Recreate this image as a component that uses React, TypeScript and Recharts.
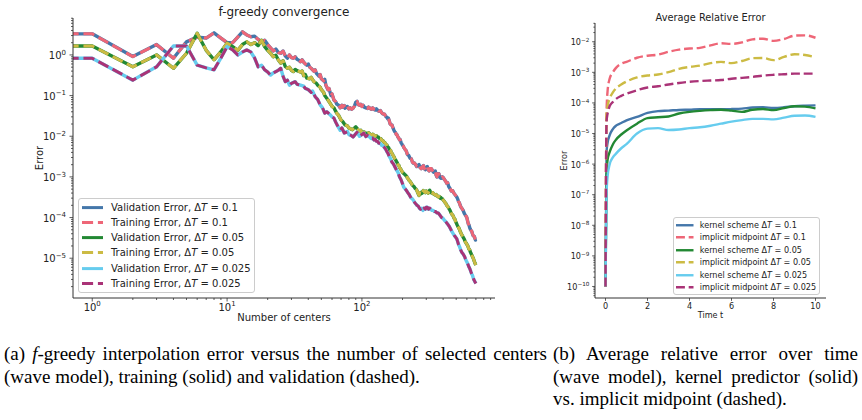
import React from "react";
import { LineChart, Line, XAxis, YAxis, Legend } from "recharts";

const FONT = '"DejaVu Sans", sans-serif';
const INK = "#222";
const SPINE = "#333";

// f-greedy convergence: [number of centers, error]
const greedyDt01: [number, number][] = [
  [0.5, 3.3], [1, 3.3], [2, 0.91], [3, 1.8], [4, 0.83], [5, 2.1], [6, 2.75], [7, 2.6], [8, 3.5], [9, 2.6],
  [10, 2.0], [11, 2.0], [12, 2.75], [13, 3.7], [14, 3.1], [15, 2.8], [16, 2.9], [17, 2.4], [18, 2.1], [19, 2.3],
  [20, 1.8], [21, 1.5], [22, 1.25], [23, 1.4], [24, 1.15], [25, 1.1], [26, 1.25], [27, 0.95], [28, 0.83], [29, 1.0],
  [30, 0.86], [31, 0.83], [32, 0.9], [33, 0.78], [34, 0.74], [35, 0.68], [36, 0.76], [37, 0.66], [38, 0.6], [39, 0.56],
  [40, 0.6], [41, 0.5], [42, 0.47], [44, 0.4], [45, 0.43], [46, 0.35], [48, 0.3], [49, 0.33], [50, 0.26], [52, 0.23],
  [53, 0.25], [54, 0.18], [56, 0.14], [57, 0.15], [59, 0.1], [60, 0.11], [62, 0.078], [64, 0.07], [65, 0.062], [67, 0.058],
  [69, 0.05], [71, 0.058], [72, 0.052], [74, 0.057], [75, 0.049], [78, 0.054], [80, 0.047], [82, 0.05], [84, 0.046], [86, 0.049],
  [88, 0.055], [90, 0.068], [92, 0.072], [94, 0.06], [96, 0.058], [98, 0.061], [100, 0.054], [102, 0.058], [104, 0.052], [107, 0.05],
  [110, 0.048], [112, 0.052], [114, 0.05], [116, 0.047], [118, 0.046], [120, 0.05], [122, 0.047], [124, 0.045], [126, 0.044], [128, 0.047],
  [130, 0.045], [132, 0.042], [135, 0.041], [137, 0.043], [140, 0.038], [142, 0.036], [145, 0.035], [147, 0.035], [150, 0.031], [152, 0.03],
  [155, 0.027], [157, 0.028], [160, 0.023], [162, 0.02], [165, 0.019], [167, 0.019], [170, 0.016], [172, 0.0145], [175, 0.013], [177, 0.0125],
  [180, 0.011], [182, 0.0108], [185, 0.0095], [187, 0.0092], [190, 0.0081], [192, 0.0083], [195, 0.007], [197, 0.0066], [200, 0.006], [202, 0.0058],
  [205, 0.0052], [207, 0.005], [210, 0.0046], [212, 0.0045], [215, 0.004], [217, 0.0036], [220, 0.0034], [222, 0.0034], [225, 0.0031], [227, 0.0029],
  [230, 0.0028], [232, 0.0028], [235, 0.0025], [237, 0.0023], [240, 0.0022], [245, 0.0022], [250, 0.002], [255, 0.0018], [260, 0.0019], [265, 0.002],
  [270, 0.0017], [275, 0.0016], [281, 0.0018], [286, 0.0019], [290, 0.0016], [295, 0.0015], [300, 0.0017], [305, 0.0018], [310, 0.0015], [315, 0.0014],
  [320, 0.0016], [327, 0.0016], [335, 0.0014], [340, 0.0013], [345, 0.0013], [350, 0.0014], [355, 0.0011], [360, 0.001], [365, 0.0012], [372, 0.0012],
  [380, 0.00095], [388, 0.00092], [395, 0.001], [402, 0.00095], [410, 0.00085], [418, 0.00078], [425, 0.0007], [432, 0.00072], [440, 0.00058], [450, 0.00052],
  [460, 0.00045], [470, 0.00046], [480, 0.0004], [492, 0.00036], [505, 0.00032], [512, 0.00029], [520, 0.00025], [528, 0.00023], [535, 0.0002], [543, 0.00018],
  [550, 0.00017], [556, 0.00016], [563, 0.00015], [572, 0.00013], [580, 0.00012], [590, 0.00011], [600, 0.0001], [608, 0.000082], [615, 0.00007], [622, 0.000066],
  [630, 0.000056], [638, 0.000051], [645, 0.000048], [652, 0.000046], [660, 0.00004], [668, 0.000036], [675, 0.000035], [682, 0.000034], [690, 0.00003], [695, 0.000028],
  [700, 0.000029],
];

const greedyDt005: [number, number][] = [
  [0.5, 1.66], [1, 1.66], [2, 0.51], [3, 1.0], [4, 0.47], [5, 1.1], [6, 3.4], [7, 1.3], [8, 0.76], [9, 1.2],
  [10, 1.95], [11, 1.6], [12, 1.3], [13, 1.8], [14, 2.1], [15, 1.8], [16, 2.0], [17, 1.7], [18, 2.3], [19, 1.6],
  [20, 1.3], [21, 1.1], [22, 0.9], [23, 0.98], [24, 0.75], [25, 0.63], [26, 0.72], [27, 0.52], [28, 0.47], [29, 0.5],
  [30, 0.42], [31, 0.39], [32, 0.44], [33, 0.41], [35, 0.38], [36, 0.4], [37, 0.31], [38, 0.33], [39, 0.27], [41, 0.26],
  [42, 0.28], [44, 0.22], [46, 0.2], [47, 0.18], [49, 0.16], [50, 0.14], [52, 0.12], [53, 0.1], [55, 0.085], [56, 0.078],
  [58, 0.065], [60, 0.054], [62, 0.05], [63, 0.045], [65, 0.037], [67, 0.033], [70, 0.025], [72, 0.023], [75, 0.019], [78, 0.018],
  [80, 0.016], [83, 0.015], [85, 0.0145], [88, 0.016], [90, 0.017], [93, 0.015], [95, 0.0135], [98, 0.014], [100, 0.012], [103, 0.0128],
  [105, 0.0125], [108, 0.0115], [110, 0.011], [112, 0.0122], [114, 0.0115], [116, 0.0106], [118, 0.0105], [120, 0.0112], [122, 0.0108], [125, 0.01],
  [128, 0.0103], [130, 0.0095], [132, 0.0096], [135, 0.0088], [138, 0.0087], [140, 0.008], [143, 0.0078], [145, 0.0072], [148, 0.0069], [150, 0.0063],
  [153, 0.0061], [155, 0.0055], [158, 0.0052], [160, 0.0047], [163, 0.0045], [165, 0.004], [168, 0.0037], [170, 0.0034], [173, 0.0031], [175, 0.0028],
  [178, 0.0026], [180, 0.0024], [183, 0.0022], [185, 0.002], [188, 0.0019], [190, 0.0017], [193, 0.0016], [195, 0.0015], [200, 0.0013], [205, 0.0012],
  [210, 0.0011], [214, 0.00105], [217, 0.00095], [221, 0.00088], [225, 0.0008], [228, 0.00077], [232, 0.0007], [236, 0.00064], [240, 0.0006], [244, 0.00057],
  [248, 0.00052], [252, 0.0005], [255, 0.00047], [260, 0.0004], [265, 0.00035], [268, 0.00041], [272, 0.00038], [276, 0.00042], [280, 0.0004], [285, 0.00046],
  [290, 0.00043], [295, 0.00041], [300, 0.00045], [305, 0.00042], [310, 0.0004], [314, 0.00044], [318, 0.00047], [324, 0.00042], [330, 0.0004], [335, 0.00041],
  [340, 0.00038], [345, 0.00037], [350, 0.00036], [355, 0.00037], [360, 0.00034], [365, 0.00034], [370, 0.00032], [375, 0.00033], [380, 0.0003], [385, 0.00031],
  [390, 0.00029], [395, 0.00029], [400, 0.00027], [408, 0.00025], [415, 0.00023], [420, 0.00022], [425, 0.0002], [432, 0.00019], [440, 0.00017], [445, 0.00016],
  [450, 0.00015], [458, 0.00013], [465, 0.00012], [470, 0.000115], [475, 0.00011], [482, 0.000096], [490, 0.00009], [495, 0.00008], [500, 0.000075], [508, 0.000066],
  [515, 0.00006], [522, 0.000056], [530, 0.00005], [538, 0.000044], [545, 0.00004], [552, 0.000037], [560, 0.000034], [568, 0.000031], [575, 0.000029], [582, 0.000026],
  [590, 0.000024], [600, 0.000022], [610, 0.00002], [620, 0.000017], [630, 0.000016], [638, 0.000014], [645, 0.000013], [652, 0.000012], [660, 0.000011], [668, 0.00001],
  [675, 0.0000092], [682, 0.0000083], [690, 0.0000075], [695, 0.0000071], [700, 0.0000068],
];

const greedyDt0025: [number, number][] = [
  [0.5, 0.83], [1, 0.83], [2, 0.24], [3, 0.51], [4, 1.66], [5, 1.66], [6, 0.56], [7, 0.48], [8, 0.43], [9, 0.84],
  [10, 1.6], [11, 1.33], [12, 1.0], [13, 1.18], [14, 1.33], [15, 1.18], [16, 0.84], [17, 0.51], [18, 0.56], [19, 0.43],
  [20, 0.38], [21, 0.32], [22, 0.36], [23, 0.39], [24, 0.42], [25, 0.47], [26, 0.3], [27, 0.22], [28, 0.24], [29, 0.18],
  [30, 0.2], [32, 0.22], [33, 0.19], [35, 0.18], [37, 0.17], [38, 0.15], [40, 0.14], [42, 0.12], [43, 0.13], [45, 0.094],
  [47, 0.08], [49, 0.059], [51, 0.05], [53, 0.037], [55, 0.04], [58, 0.034], [60, 0.03], [62, 0.028], [64, 0.022], [66, 0.018],
  [69, 0.014], [71, 0.016], [74, 0.012], [78, 0.013], [80, 0.011], [83, 0.0105], [86, 0.0096], [89, 0.011], [92, 0.0125], [96, 0.01],
  [100, 0.011], [103, 0.012], [107, 0.0098], [110, 0.0105], [112, 0.01], [115, 0.0093], [117, 0.0088], [120, 0.009], [123, 0.0081], [126, 0.0083],
  [128, 0.0075], [131, 0.0074], [133, 0.0068], [137, 0.0066], [140, 0.006], [143, 0.0059], [146, 0.0054], [150, 0.0048], [153, 0.0042], [156, 0.0038],
  [160, 0.0031], [163, 0.0028], [167, 0.0023], [171, 0.0021], [175, 0.0018], [180, 0.0015], [185, 0.0013], [190, 0.001], [195, 0.00085], [200, 0.00068],
  [204, 0.00056], [210, 0.0005], [215, 0.00045], [220, 0.0004], [225, 0.00036], [228, 0.00033], [232, 0.0003], [236, 0.00029], [240, 0.00027], [245, 0.00024],
  [250, 0.00022], [256, 0.0002], [262, 0.00019], [267, 0.00017], [272, 0.00016], [278, 0.00017], [283, 0.00015], [289, 0.00017], [295, 0.00016], [300, 0.00018],
  [305, 0.00018], [312, 0.00016], [318, 0.00017], [324, 0.00016], [330, 0.00015], [338, 0.00015], [345, 0.00014], [352, 0.00014], [360, 0.00013], [368, 0.00013],
  [375, 0.00012], [382, 0.00011], [390, 0.0001], [400, 0.000095], [410, 0.000085], [418, 0.00008], [425, 0.000074], [435, 0.000067], [445, 0.00006], [455, 0.000052],
  [465, 0.000045], [475, 0.00004], [485, 0.000036], [495, 0.000033], [505, 0.00003], [512, 0.000026], [520, 0.000022], [530, 0.000019], [540, 0.000016], [550, 0.000014],
  [560, 0.000013], [568, 0.000012], [577, 0.000011], [586, 0.0000095], [595, 0.0000085], [604, 0.0000077], [612, 0.000007], [620, 0.0000062], [630, 0.0000056], [638, 0.000005],
  [645, 0.0000045], [652, 0.0000041], [660, 0.0000038], [668, 0.0000033], [675, 0.000003], [682, 0.0000028], [690, 0.0000026], [695, 0.0000025], [700, 0.0000024],
];

const greedyXDecades = [1, 10, 100];
const greedyYDecades = [1e-6, 1e-5, 1e-4, 1e-3, 1e-2, 1e-1, 1];

// average relative error over time
const timeGrid = [0, 0.05, 0.1, 0.2, 0.35, 0.5, 0.75, 1, 1.5, 2, 2.5, 3, 3.5, 4, 4.5, 5, 5.5, 6, 6.5, 7, 7.5, 8, 8.5, 9, 9.5, 10];
const kernelDt01 = [1e-10, 2.5e-6, 5.0e-6, 8.9e-6, 1.4e-5, 1.8e-5, 2.2e-5, 2.7e-5, 3.5e-5, 4.7e-5, 5.4e-5, 5.6e-5, 5.9e-5, 6.0e-5, 6.2e-5, 6.2e-5, 6.2e-5, 6.3e-5, 6.5e-5, 7.1e-5, 7.2e-5, 6.9e-5, 7.2e-5, 7.8e-5, 8.1e-5, 8.3e-5];
const midpointDt01 = [1e-10, 5.0e-5, 2.5e-4, 6.3e-4, 1.0e-3, 1.4e-3, 1.9e-3, 2.2e-3, 3.0e-3, 3.5e-3, 3.8e-3, 4.7e-3, 5.5e-3, 6.0e-3, 6.3e-3, 7.6e-3, 8.9e-3, 8.5e-3, 9.5e-3, 1.2e-2, 1.26e-2, 1.07e-2, 1.23e-2, 1.58e-2, 1.62e-2, 1.35e-2];
const kernelDt005 = [1e-10, 4.0e-7, 1.4e-6, 2.5e-6, 4.4e-6, 6.3e-6, 9.3e-6, 1.26e-5, 2.1e-5, 3.2e-5, 3.4e-5, 3.6e-5, 4.5e-5, 5.1e-5, 5.5e-5, 5.8e-5, 6.0e-5, 5.6e-5, 5.1e-5, 6.0e-5, 6.3e-5, 5.8e-5, 6.8e-5, 7.8e-5, 7.6e-5, 6.6e-5];
const midpointDt005 = [1e-10, 4.0e-5, 7.9e-5, 1.4e-4, 2.2e-4, 3.0e-4, 4.0e-4, 5.0e-4, 6.8e-4, 7.9e-4, 8.5e-4, 1.02e-3, 1.3e-3, 1.5e-3, 1.66e-3, 2.0e-3, 2.2e-3, 2.0e-3, 2.35e-3, 2.9e-3, 2.95e-3, 2.5e-3, 3.2e-3, 3.9e-3, 3.7e-3, 3.1e-3];
const kernelDt0025 = [1e-10, 1.0e-7, 4.0e-7, 1.0e-6, 1.66e-6, 2.2e-6, 3.3e-6, 4.5e-6, 1.0e-5, 1.45e-5, 1.5e-5, 1.3e-5, 1.35e-5, 1.5e-5, 1.6e-5, 1.8e-5, 2.1e-5, 2.45e-5, 2.75e-5, 3.0e-5, 3.0e-5, 2.9e-5, 3.3e-5, 3.8e-5, 3.9e-5, 3.5e-5];
const midpointDt0025 = [1e-10, 2.5e-5, 4.5e-5, 7.9e-5, 1.07e-4, 1.35e-4, 1.7e-4, 2.0e-4, 2.6e-4, 3.2e-4, 3.5e-4, 4.0e-4, 4.5e-4, 4.9e-4, 5.2e-4, 5.4e-4, 5.6e-4, 6.2e-4, 6.6e-4, 7.1e-4, 7.8e-4, 8.3e-4, 8.7e-4, 9.1e-4, 9.1e-4, 9.1e-4];

const timeTicks = [0, 2, 4, 6, 8, 10];
const errorDecades = [1e-11, 1e-10, 1e-9, 1e-8, 1e-7, 1e-6, 1e-5, 1e-4, 1e-3, 1e-2];

const GREEDY_X: [number, number] = [0.72, 970];
const GREEDY_Y: [number, number] = [1.05e-6, 8.1];
const TIME_X: [number, number] = [-0.5, 10.5];
const ERROR_Y: [number, number] = [4.2e-11, 0.041];

// decades plus the 2..9 minor ticks that fall inside the domain
const withMinor = (decades: number[], [lo, hi]: [number, number]) =>
  decades
    .flatMap((d) => [1, 2, 3, 4, 5, 6, 7, 8, 9].map((m) => m * d))
    .filter((v) => v >= lo && v <= hi);

const toRows = (pts: [number, number][]) => pts.map(([n, err]) => ({ n, err }));

const greedySeries = [
  { name: "Validation Error", dt: "0.1", color: "#4477AA", dashed: false, data: toRows(greedyDt01) },
  { name: "Training Error", dt: "0.1", color: "#EE6677", dashed: true, data: toRows(greedyDt01) },
  { name: "Validation Error", dt: "0.05", color: "#228833", dashed: false, data: toRows(greedyDt005) },
  { name: "Training Error", dt: "0.05", color: "#CCBB44", dashed: true, data: toRows(greedyDt005) },
  { name: "Validation Error", dt: "0.025", color: "#66CCEE", dashed: false, data: toRows(greedyDt0025) },
  { name: "Training Error", dt: "0.025", color: "#AA3377", dashed: true, data: toRows(greedyDt0025) },
];

const errorRows = timeGrid.map((t, i) => ({
  t,
  k01: kernelDt01[i],
  m01: midpointDt01[i],
  k005: kernelDt005[i],
  m005: midpointDt005[i],
  k0025: kernelDt0025[i],
  m0025: midpointDt0025[i],
}));

const errorSeries = [
  { key: "k01", name: "kernel scheme", dt: "0.1", color: "#4477AA", dashed: false },
  { key: "m01", name: "implicit midpoint", dt: "0.1", color: "#EE6677", dashed: true },
  { key: "k005", name: "kernel scheme", dt: "0.05", color: "#228833", dashed: false },
  { key: "m005", name: "implicit midpoint", dt: "0.05", color: "#CCBB44", dashed: true },
  { key: "k0025", name: "kernel scheme", dt: "0.025", color: "#66CCEE", dashed: false },
  { key: "m0025", name: "implicit midpoint", dt: "0.025", color: "#AA3377", dashed: true },
];

const onDecade = (v: number) => Math.abs(Math.log10(v) - Math.round(Math.log10(v))) < 1e-6;
const expText = (v: number) => {
  const e = Math.round(Math.log10(v));
  return e < 0 ? `\u2212${-e}` : `${e}`;
};

// log axis tick: long tick + 10^k label on decades, short tick otherwise
function PowerTick(props: any) {
  const { x, y, payload, side, fs } = props;
  const v = payload.value;
  const major = onDecade(v);
  const len = major ? 0.35 * fs : 0.2 * fs;
  const pad = 0.35 * fs;
  const label = (tx: number, ty: number, anchor: string) => (
    <text x={tx} y={ty} textAnchor={anchor} fontSize={fs} fill={INK} fontFamily={FONT}>
      10
      <tspan dy={-0.45 * fs} fontSize={0.7 * fs}>
        {expText(v)}
      </tspan>
    </text>
  );
  if (side === "left") {
    return (
      <g>
        <line x1={x - len} x2={x} y1={y} y2={y} stroke={SPINE} strokeWidth={0.8} />
        {major && label(x - len - pad, y + 0.42 * fs, "end")}
      </g>
    );
  }
  return (
    <g>
      <line x1={x} x2={x} y1={y} y2={y + len} stroke={SPINE} strokeWidth={0.8} />
      {major && label(x, y + len + pad + 0.55 * fs, "middle")}
    </g>
  );
}

function PlainTick(props: any) {
  const { x, y, payload, fs } = props;
  const len = 0.35 * fs;
  return (
    <g>
      <line x1={x} x2={x} y1={y} y2={y + len} stroke={SPINE} strokeWidth={0.8} />
      <text x={x} y={y + 2 * len + 0.62 * fs} textAnchor="middle" fontSize={fs} fill={INK} fontFamily={FONT}>
        {payload.value}
      </text>
    </g>
  );
}

type Entry = { name: string; dt: string; color: string; dashed: boolean };

function LegendBox({ entries, fs, rowH, lw, dash, handle, padL, gap, padY }: {
  entries: Entry[]; fs: number; rowH: number; lw: number; dash: string; handle: number; padL: number; gap: number; padY: number;
}) {
  return (
    <div
      style={{
        display: "inline-block",
        background: "rgba(255,255,255,0.8)",
        border: "1px solid #cccccc",
        borderRadius: 3,
        padding: `${padY}px ${padL + 1}px ${padY}px ${padL}px`,
        fontFamily: FONT,
        fontSize: fs,
        color: INK,
        whiteSpace: "nowrap",
      }}
    >
      {entries.map((e, i) => (
        <div key={i} style={{ display: "flex", alignItems: "center", height: rowH }}>
          <svg width={handle} height={rowH} style={{ marginRight: gap, flex: "none" }}>
            <line
              x1={0}
              x2={handle}
              y1={rowH / 2}
              y2={rowH / 2}
              stroke={e.color}
              strokeWidth={lw}
              strokeDasharray={e.dashed ? dash : undefined}
            />
          </svg>
          <span>
            {e.name}
            {e.name.startsWith("Valid") || e.name.startsWith("Train") ? ", " : " "}
            {"\u0394"}
            <i>T</i> = {e.dt}
          </span>
        </div>
      ))}
    </div>
  );
}

function GreedyChart() {
  const dash = "11.1 4.8";
  return (
    <LineChart width={500} height={330} margin={{ top: 18, right: 5, bottom: 0, left: 0 }}>
      <XAxis
        dataKey="n"
        type="number"
        scale="log"
        domain={GREEDY_X}
        allowDataOverflow
        ticks={withMinor(greedyXDecades, GREEDY_X)}
        interval={0}
        height={32}
        tickSize={0}
        tickMargin={0}
        tickLine={false}
        axisLine={{ stroke: SPINE, strokeWidth: 1 }}
        tick={(p: any) => <PowerTick {...p} side="bottom" fs={10} />}
      />
      <XAxis xAxisId="top" orientation="top" type="number" domain={[0, 1]} height={0} tick={false} tickLine={false} axisLine={{ stroke: SPINE, strokeWidth: 1 }} />
      <YAxis
        type="number"
        scale="log"
        domain={GREEDY_Y}
        allowDataOverflow
        ticks={withMinor(greedyYDecades, GREEDY_Y)}
        interval={0}
        width={73}
        tickSize={0}
        tickMargin={0}
        tickLine={false}
        axisLine={{ stroke: SPINE, strokeWidth: 1 }}
        tick={(p: any) => <PowerTick {...p} side="left" fs={10} />}
      />
      <YAxis yAxisId="right" orientation="right" type="number" domain={[0, 1]} width={0} tick={false} tickLine={false} axisLine={{ stroke: SPINE, strokeWidth: 1 }} />
      {greedySeries.map((s, i) => (
        <Line
          key={i}
          data={s.data}
          dataKey="err"
          name={`${s.name} ${s.dt}`}
          type="linear"
          stroke={s.color}
          strokeWidth={s.dashed ? 3 : 3.4}
          strokeDasharray={s.dashed ? dash : undefined}
          strokeLinejoin="round"
          dot={false}
          activeDot={false}
          isAnimationActive={false}
        />
      ))}
      <Legend
        layout="vertical"
        align="center"
        verticalAlign="middle"
        wrapperStyle={{ left: 78, top: 198, width: "auto" }}
        content={() => (
          <LegendBox entries={greedySeries} fs={10} rowH={15.2} lw={3} dash={dash} handle={21.6} padL={2.7} gap={7.7} padY={0.75} />
        )}
      />
    </LineChart>
  );
}

function ErrorChart() {
  const dash = "8.9 3.8";
  return (
    <LineChart width={300} height={330} data={errorRows} margin={{ top: 23, right: 14, bottom: 0, left: 0 }}>
      <XAxis
        dataKey="t"
        type="number"
        domain={TIME_X}
        ticks={timeTicks}
        interval={0}
        height={32}
        tickSize={0}
        tickMargin={0}
        tickLine={false}
        axisLine={{ stroke: SPINE, strokeWidth: 1 }}
        tick={(p: any) => <PlainTick {...p} fs={8.1} />}
      />
      <XAxis xAxisId="top" orientation="top" type="number" domain={[0, 1]} height={0} tick={false} tickLine={false} axisLine={{ stroke: SPINE, strokeWidth: 1 }} />
      <YAxis
        type="number"
        scale="log"
        domain={ERROR_Y}
        allowDataOverflow
        ticks={withMinor(errorDecades, ERROR_Y)}
        interval={0}
        width={55}
        tickSize={0}
        tickMargin={0}
        tickLine={false}
        axisLine={{ stroke: SPINE, strokeWidth: 1 }}
        tick={(p: any) => <PowerTick {...p} side="left" fs={8.1} />}
      />
      <YAxis yAxisId="right" orientation="right" type="number" domain={[0, 1]} width={0} tick={false} tickLine={false} axisLine={{ stroke: SPINE, strokeWidth: 1 }} />
      {errorSeries.map((s) => (
        <Line
          key={s.key}
          dataKey={s.key}
          name={`${s.name} ${s.dt}`}
          type="monotone"
          stroke={s.color}
          strokeWidth={2.4}
          strokeDasharray={s.dashed ? dash : undefined}
          strokeLinejoin="round"
          dot={false}
          activeDot={false}
          isAnimationActive={false}
        />
      ))}
      <Legend
        layout="vertical"
        align="center"
        verticalAlign="middle"
        wrapperStyle={{ left: 133.3, top: 217.3, width: "auto" }}
        content={() => (
          <LegendBox entries={errorSeries} fs={8.1} rowH={12.5} lw={2.4} dash={dash} handle={17.5} padL={2} gap={6} padY={0.35} />
        )}
      />
    </LineChart>
  );
}

const captionStyle: React.CSSProperties = {
  position: "absolute",
  top: 343,
  fontFamily: '"Liberation Serif", serif',
  fontSize: 19,
  lineHeight: "22.5px",
  color: "#000",
};

export default function App() {
  return (
    <div style={{ position: "absolute", left: 0, top: 0, width: 862, height: 420, background: "#fff", overflow: "hidden" }}>
      <div style={{ position: "absolute", left: 0, top: 0 }}>
        <GreedyChart />
      </div>
      <div style={{ position: "absolute", left: 540, top: 0 }}>
        <ErrorChart />
      </div>
      <svg width={862} height={340} style={{ position: "absolute", left: 0, top: 0, pointerEvents: "none" }} fontFamily={FONT} fill={INK}>
        <text x={284} y={15.5} fontSize={12} textAnchor="middle">f-greedy convergence</text>
        <text x={284} y={321} fontSize={10} textAnchor="middle">Number of centers</text>
        <text x={43} y={158} fontSize={10} textAnchor="middle" transform="rotate(-90 43 158)">Error</text>
        <text x={710.5} y={20.5} fontSize={9.8} textAnchor="middle">Average Relative Error</text>
        <text x={710.5} y={318.3} fontSize={8.1} textAnchor="middle">Time t</text>
        <text x={566.5} y={160.5} fontSize={8.1} textAnchor="middle" transform="rotate(-90 566.5 160.5)">Error</text>
      </svg>
      <div style={{ ...captionStyle, left: 4, width: 543 }}>
        <div style={{ textAlignLast: "justify" }}>
          (a) <i>f</i>-greedy interpolation error versus the number of selected centers
        </div>
        <div>(wave model), training (solid) and validation (dashed).</div>
      </div>
      <div style={{ ...captionStyle, left: 553, width: 305 }}>
        <div style={{ textAlignLast: "justify" }}>(b) Average relative error over time</div>
        <div style={{ textAlignLast: "justify" }}>(wave model), kernel predictor (solid)</div>
        <div>vs. implicit midpoint (dashed).</div>
      </div>
    </div>
  );
}
